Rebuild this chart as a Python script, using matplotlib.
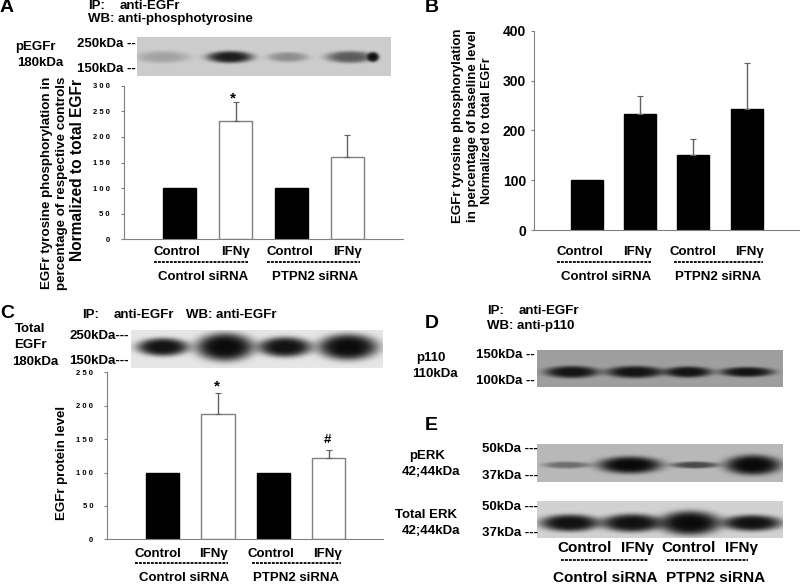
import numpy as np
import matplotlib
matplotlib.use('Agg')
import matplotlib.pyplot as plt

plt.rcParams['font.family'] = ['Liberation Sans', 'DejaVu Sans']
plt.rcParams['font.weight'] = 'bold'

W, H = 800, 584
GREY = '#808080'

# bar values
conds = ['Control', 'IFNγ', 'Control', 'IFNγ']
groups = ['Control siRNA', 'PTPN2 siRNA']

a_vals = [100, 232, 100, 161]
a_errs = [0, 37, 0, 43]
a_ticks = [0, 50, 100, 150, 200, 250, 300]
a_labels = ['0', '5 0', '1 0 0', '1 5 0', '2 0 0', '2 5 0', '3 0 0']

b_vals = [100, 232, 151, 243]
b_errs = [0, 36, 31, 92]
b_ticks = [0, 100, 200, 300, 400]

c_vals = [100, 188, 100, 121]
c_errs = [0, 31, 0, 12]
c_ticks = [0, 50, 100, 150, 200, 250]
c_labels = ['0', '5 0', '1 0 0', '1 5 0', '2 0 0', '2 5 0']

# blot bands: x centre, half width, half height, darkness
a_bands = [(163, 26, 6, 0.2), (230, 23, 6, 0.85), (288, 20, 5, 0.3), (350, 24, 6, 0.55), (373, 6, 5, 0.9)]
c_bands = [(163, 26, 9, 0.92), (225, 29, 14, 0.95), (285, 27, 10, 0.92), (348, 30, 13, 0.95)]
d_bands = [(572, 27, 6, 0.88), (635, 29, 6, 0.88), (688, 24, 5.5, 0.88), (747, 27, 5, 0.88)]
perk_bands = [(567, 24, 3.5, 0.4), (630, 32, 8.5, 0.95), (695, 24, 3.5, 0.6), (753, 28, 10, 0.95)]
terk_bands = [(570, 30, 8.5, 0.92), (632, 31, 9, 0.92), (690, 31, 12, 0.95), (752, 30, 8, 0.92)]


def px_axes(fig, x0, x1, ytop, ybot):
    ax = fig.add_axes([x0 / W, 1 - ybot / H, (x1 - x0) / W, (ybot - ytop) / H])
    ax.patch.set_alpha(0)
    return ax


def bar_panel(fig, box, first, step, width, vals, errs, fill, ticks, labels, ymax, size):
    x0, x1, ytop, ybot = box
    ax = px_axes(fig, x0, x1, ytop, ybot)
    xs = [1, 2, 3, 4]
    ax.bar(xs, vals, width=width / step, color=fill, edgecolor=[GREY if c == 'white' else 'black' for c in fill], lw=1)
    for x, v, e in zip(xs, vals, errs):
        if e > 0:
            ax.errorbar(x, v, yerr=[[0], [e]], color='#606060', lw=1, capsize=2, capthick=0.8)
    ax.set_xlim(1 + (x0 - first) / step, 1 + (x1 - first) / step)
    ax.set_ylim(0, ymax)
    ax.set_xticks([])
    ax.set_yticks(ticks)
    ax.set_yticklabels(labels, fontsize=size, fontweight='bold')
    ax.tick_params(axis='y', length=2, width=0.8, color=GREY, pad=8 if size < 7 else 4)
    for s in ['top', 'right']:
        ax.spines[s].set_visible(False)
    for s in ['left', 'bottom']:
        ax.spines[s].set_color(GREY)
    return ax


def blot(ov, x0, x1, y0, y1, cy, bg, bands):
    xx, yy = np.meshgrid(np.arange(x0, x1) + 0.5, np.arange(y0, y1) + 0.5)
    img = np.full(xx.shape, bg, dtype=float)
    for cx, hw, hh, d in bands:
        img *= 1 - d * np.exp(-(((xx - cx) / hw) ** 2 + ((yy - cy) / hh) ** 2) ** 2)
    ov.imshow(img, cmap='gray', vmin=0, vmax=1, extent=(x0, x1, y1, y0), aspect='auto')


def txt(ov, x, y, s, size=9.5, ha='left', rot=0):
    ov.text(x, y, s, fontsize=size, ha=ha, va='center', rotation=rot, rotation_mode='anchor' if rot == 0 else 'default')


def under(ov, xs, names, ys, dashes, gxs, size=9.5):
    # condition names, dashed underlines, group names
    for x, s in zip(xs, names):
        txt(ov, x, ys[0], s, size, 'center')
    for a, b in dashes:
        ov.plot([a, b], [ys[1], ys[1]], color='black', lw=1.3, ls=(0, (1.6, 0.6)))
    for x, s in zip(gxs, groups):
        txt(ov, x, ys[2], s, size, 'center')


fig = plt.figure(figsize=(8, 5.84), dpi=100)

bar_panel(fig, (123.5, 403, 85.7, 239.3), 179.7, 55.9, 33, a_vals, a_errs,
          ['black', 'white', 'black', 'white'], a_ticks, a_labels, 300, 5.5)
bar_panel(fig, (534.3, 800, 30.7, 230), 587, 53.2, 32, b_vals, b_errs,
          ['black'] * 4, b_ticks, [str(t) for t in b_ticks], 400, 10)
bar_panel(fig, (107.3, 383, 372.3, 539.3), 162.7, 55.3, 33.3, c_vals, c_errs,
          ['black', 'white', 'black', 'white'], c_ticks, c_labels, 250, 5.5)

ov = fig.add_axes([0, 0, 1, 1])
ov.patch.set_alpha(0)

blot(ov, 137, 391, 37, 76, 57, 0.80, a_bands)
blot(ov, 131, 383, 330, 368, 347, 0.90, c_bands)
blot(ov, 537, 783, 350, 387, 372, 0.62, d_bands)
blot(ov, 537, 783, 444, 482, 465, 0.72, perk_bands)
blot(ov, 537, 783, 501, 538, 523, 0.82, terk_bands)

# panel letters
for x, y, s in [(0, 7, 'A'), (425, 7, 'B'), (0, 313, 'C'), (425, 323, 'D'), (425, 426, 'E')]:
    txt(ov, x, y, s, 14)

# panel A
txt(ov, 88, 6, 'IP:')
txt(ov, 120, 6, 'anti-EGFr')
txt(ov, 88, 19, 'WB: anti-phosphotyrosine')
txt(ov, 15, 47, 'pEGFr')
txt(ov, 17, 63, '180kDa')
txt(ov, 77, 44, '250kDa --')
txt(ov, 77, 69, '150kDa --')
txt(ov, 47, 183, 'EGFr tyrosine phosphorylation in', 9.6, 'center', 90)
txt(ov, 62, 183, 'percentage of respective controls', 9.6, 'center', 90)
txt(ov, 78, 170, 'Normalized to total EGFr', 11.2, 'center', 90)
txt(ov, 233, 98, '*', 11, 'center')
under(ov, [177, 235, 290, 347], conds, (252, 262, 277), [(154, 248), (267, 360)], [203, 315])

# panel B
txt(ov, 458, 126, 'EGFr tyrosine phosphorylation', 9.5, 'center', 90)
txt(ov, 473, 126, 'in percentage of baseline level', 9.5, 'center', 90)
txt(ov, 487, 131, 'Normalized to total EGFr', 9, 'center', 90)
under(ov, [580, 637, 693, 749], conds, (252, 262, 277), [(557, 651), (674, 763)], [606, 718])

# panel C
txt(ov, 82, 315, 'IP:')
txt(ov, 114, 315, 'anti-EGFr')
txt(ov, 186, 315, 'WB: anti-EGFr')
txt(ov, 30, 329, 'Total', 9.5, 'center')
txt(ov, 30, 345, 'EGFr', 9.5, 'center')
txt(ov, 12, 362, '180kDa')
txt(ov, 69, 336, '250kDa---')
txt(ov, 69, 361, '150kDa---')
txt(ov, 62, 463, 'EGFr protein level', 9.5, 'center', 90)
txt(ov, 217, 386, '*', 11, 'center')
txt(ov, 327, 440, '#', 9.5, 'center')
under(ov, [158, 213, 271, 328], conds, (554, 563, 578), [(135, 228), (252, 341)], [184, 296])

# panels D and E
txt(ov, 487, 311, 'IP:')
txt(ov, 519, 311, 'anti-EGFr')
txt(ov, 487, 326, 'WB: anti-p110')
txt(ov, 416, 358, 'p110')
txt(ov, 412, 374, '110kDa')
txt(ov, 476, 355, '150kDa --')
txt(ov, 476, 381, '100kDa --')
txt(ov, 409, 456, 'pERK')
txt(ov, 402, 472, '42;44kDa')
txt(ov, 482, 449, '50kDa ---')
txt(ov, 482, 476, '37kDa ---')
txt(ov, 395, 515, 'Total ERK')
txt(ov, 402, 531, '42;44kDa')
txt(ov, 482, 507, '50kDa ---')
txt(ov, 482, 533, '37kDa ---')
under(ov, [585, 637, 689, 742], conds, (548, 560, 578), [(561, 648), (667, 748)], [605, 716], 11)

ov.set_xlim(0, W)
ov.set_ylim(H, 0)
ov.axis('off')

fig.savefig('out.png', dpi=100)
